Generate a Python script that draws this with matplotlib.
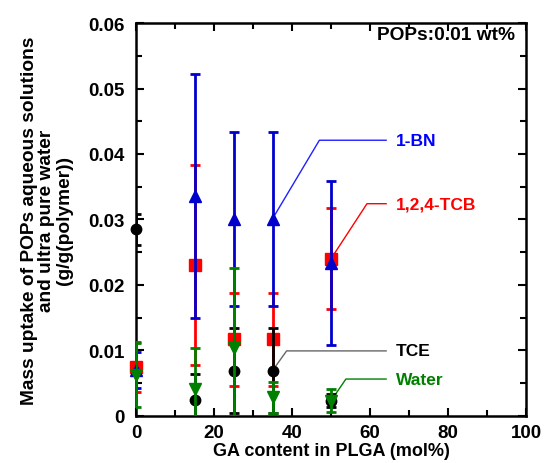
import matplotlib
matplotlib.use("Agg")
import matplotlib.pyplot as plt
from matplotlib.ticker import MultipleLocator

plt.rcParams['font.family'] = ['Liberation Sans', 'DejaVu Sans']
plt.rcParams['font.weight'] = 'bold'

# GA content (mol%)
ga = [0, 15, 25, 35, 50]

# mass uptake values and errors
bn = [0.0070, 0.0336, 0.0301, 0.0301, 0.0233]
bn_err = [0.0028, 0.0187, 0.0133, 0.0133, 0.0125]

tcb = [0.0074, 0.0230, 0.0117, 0.0117, 0.0240]
tcb_err = [0.0038, 0.0153, 0.0071, 0.0071, 0.0077]

tce = [0.0285, 0.0024, 0.0069, 0.0069, 0.0023]
tce_err = [0.0024, 0.0039, 0.0065, 0.0065, 0.0010]

water = [0.0062, 0.0041, 0.0104, 0.0028, 0.0023]
water_err = [0.0049, 0.0063, 0.0121, 0.0024, 0.0018]

fig = plt.figure(figsize=(5.45, 4.64), dpi=100)
ax = fig.add_axes([0.2495, 0.102, 0.716, 0.846])

# drawing order: red, black, blue, green
series = [
    (tcb, tcb_err, 'red', 's', 8),
    (tce, tce_err, 'black', 'o', 7.5),
    (bn, bn_err, '#0000CC', '^', 8),
    (water, water_err, 'green', 'v', 8),
]
for z, (vals, errs, col, mk, ms) in enumerate(series):
    cont = ax.errorbar(ga, vals, yerr=errs, fmt=mk, color=col, ms=ms, mec=col,
                       ecolor=col, elinewidth=2, capsize=3.5, capthick=2,
                       linestyle='none', zorder=3 + z)
    # markers at x=0 sit on the axis, don't cut them
    cont.lines[0].set_clip_on(False)

# callout labels
labels = [
    ("1-BN", (35, 0.0301), (47.0, 0.0421), '#0000FF', '#2020FF'),
    ("1,2,4-TCB", (50, 0.0240), (59.2, 0.0324), 'red', 'red'),
    ("TCE", (35, 0.0069), (38.6, 0.0099), 'black', '#666666'),
    ("Water", (50, 0.0023), (53.8, 0.0056), 'green', 'green'),
]
for txt, pt, elbow, tcol, lcol in labels:
    ax.plot([pt[0], elbow[0], 64.1], [pt[1], elbow[1], elbow[1]],
            color=lcol, lw=1, zorder=2)
    ax.text(66.6, elbow[1], txt, color=tcol, fontsize=12.5,
            fontweight='bold', va='center', ha='left')

ax.text(0.972, 0.970, "POPs:0.01 wt%", transform=ax.transAxes, ha='right',
        va='center', fontsize=13.8, fontweight='bold')

ax.set_xlim(0, 100)
ax.set_ylim(0, 0.06)
ax.xaxis.set_major_locator(MultipleLocator(20))
ax.xaxis.set_minor_locator(MultipleLocator(10))
ax.yaxis.set_major_locator(MultipleLocator(0.01))
ax.yaxis.set_minor_locator(MultipleLocator(0.005))
ax.set_yticks([0, 0.01, 0.02, 0.03, 0.04, 0.05, 0.06])
ax.set_yticklabels(['0', '0.01', '0.02', '0.03', '0.04', '0.05', '0.06'])
ax.tick_params(which='both', direction='in', top=True, right=True,
               width=1.5, labelsize=13.5)
ax.tick_params(which='major', length=6)
ax.tick_params(axis='x', which='major', pad=6)
ax.tick_params(axis='y', which='major', pad=8)
ax.tick_params(which='minor', length=4)
for s in ax.spines.values():
    s.set_linewidth(1.8)
for t in ax.get_xticklabels() + ax.get_yticklabels():
    t.set_fontweight('bold')

ax.set_xlabel("GA content in PLGA (mol%)", fontsize=13, fontweight='bold',
              labelpad=1)
ax.set_ylabel("Mass uptake of POPs aqueous solutions\nand ultra pure water\n(g/g(polymer))",
              fontsize=13.8, fontweight='bold', linespacing=1.05)
ax.yaxis.set_label_coords(-0.1615, 0.5)

fig.savefig("out.png", dpi=100)
